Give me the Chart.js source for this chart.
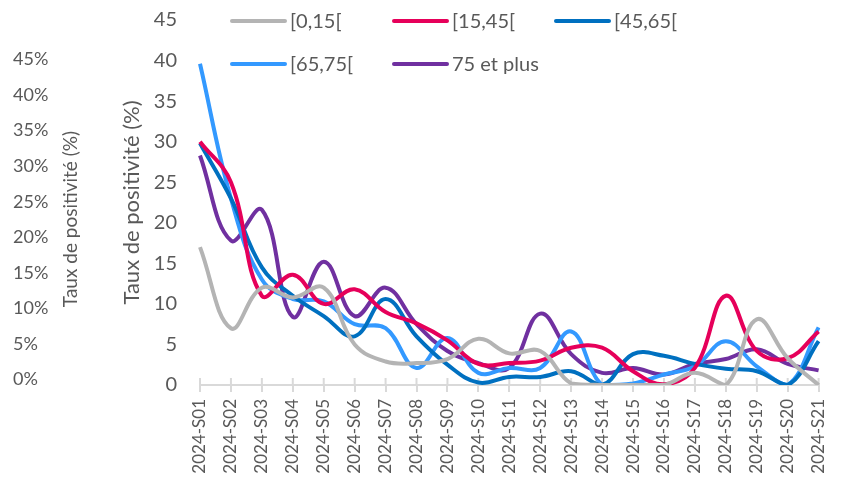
<!DOCTYPE html>
<html>
<head>
<meta charset="utf-8">
<script src="https://cdn.jsdelivr.net/npm/chart.js@4.4.1/dist/chart.umd.min.js"></script>
<style>
html, body { margin: 0; padding: 0; background: #fff; }
#wrap { width: 846px; height: 481px; }
</style>
</head>
<body>
<div id="wrap"><canvas id="chart"></canvas></div>
<script>
// ---- data (taux de positivité par classe d'âge, %) ----
var weeks = ['2024-S01', '2024-S02', '2024-S03', '2024-S04', '2024-S05', '2024-S06', '2024-S07',
             '2024-S08', '2024-S09', '2024-S10', '2024-S11', '2024-S12', '2024-S13', '2024-S14',
             '2024-S15', '2024-S16', '2024-S17', '2024-S18', '2024-S19', '2024-S20', '2024-S21'];

var age0_15  = [17, 7, 12, 10.8, 12, 5, 2.9, 2.7, 3.2, 5.7, 3.9, 4.2, 0.2, 0, 0, 0, 1.5, 0, 8.1, 3.3, 0];
var age15_45 = [30, 25, 11, 13.6, 10, 11.8, 9, 7.6, 5.5, 2.6, 2.7, 3, 4.6, 4.6, 1.7, 0.1, 2.1, 11, 4.2, 3.3, 6.6];
var age45_65 = [29.8, 23, 14.5, 11, 8.5, 6, 10.6, 6, 2.5, 0.3, 1, 1, 1.7, 0, 3.8, 3.6, 2.6, 2, 1.7, 0, 5.4];
var age65_75 = [39.6, 23, 13, 10.6, 10.3, 7.5, 7, 2.1, 5.8, 1.5, 2.1, 2.1, 6.6, 0, 0.2, 1.3, 2.3, 5.4, 2.3, 0, 7.1];
var age75plus = [28.3, 17.8, 21.6, 8.4, 15.2, 8.5, 12, 7.5, 4.2, 2.7, 2.1, 8.8, 3.8, 1.5, 2.1, 1.3, 2.6, 3.2, 4.4, 2.6, 1.8];

var seriesNames = ['[0,15[', '[15,45[', '[45,65[', '[65,75[', '75 et plus'];
var seriesColors = ['#B4B4B4', '#E6005A', '#0070C0', '#3399FF', '#7030A0'];
var pctTicks = [0, 5, 10, 15, 20, 25, 30, 35, 40, 45];

var textColor = '#595959';
var fontFamily = 'Lato, "Open Sans", sans-serif';
var axisTitle = 'Taux de positivité (%)';

var allSeries = [age0_15, age15_45, age45_65, age65_75, age75plus];

// small plugin: tick marks above the axis, outer axis title and the legend
var extrasPlugin = {
    id: 'extras',
    beforeDatasetsDraw: function(chart) {
        var ctx = chart.ctx;
        var xs = chart.scales.x;
        ctx.save();
        ctx.strokeStyle = '#D9D9D9';
        ctx.lineWidth = 2;
        xs.ticks.forEach(function(t, i) {
            var px = xs.getPixelForTick(i);
            ctx.beginPath();
            ctx.moveTo(px, xs.top - 7);
            ctx.lineTo(px, xs.top);
            ctx.stroke();
        });
        ctx.restore();
    },
    afterDraw: function(chart) {
        var ctx = chart.ctx;
        ctx.save();
        // outer axis title
        ctx.fillStyle = textColor;
        ctx.font = '19px ' + fontFamily;
        ctx.textAlign = 'center';
        ctx.textBaseline = 'middle';
        ctx.translate(71, 219);
        ctx.rotate(-Math.PI / 2);
        ctx.fillText(axisTitle, 0, 0);
        ctx.restore();

        // legend, 3 columns x 2 rows
        var cols = [232, 394, 556];
        var rows = [21, 64];
        ctx.save();
        ctx.font = '20px ' + fontFamily;
        ctx.textBaseline = 'middle';
        ctx.textAlign = 'left';
        chart.data.datasets.forEach(function(ds, i) {
            var x = cols[i % 3];
            var y = rows[Math.floor(i / 3)];
            ctx.strokeStyle = ds.borderColor;
            ctx.lineWidth = 4;
            ctx.lineCap = 'round';
            ctx.beginPath();
            ctx.moveTo(x, y);
            ctx.lineTo(x + 53, y);
            ctx.stroke();
            ctx.fillStyle = textColor;
            ctx.fillText(ds.label, x + 58, y + 1);
        });
        ctx.restore();
    }
};

var datasets = allSeries.map(function(values, i) {
    return {
        label: seriesNames[i],
        data: values,
        borderColor: seriesColors[i],
        backgroundColor: seriesColors[i],
        borderWidth: 4,
        pointRadius: 0,
        tension: 0.4,
        fill: false,
        yAxisID: 'y'
    };
});

var ctx = document.getElementById('chart').getContext('2d');
var chart = new Chart(ctx, {
    type: 'line',
    data: { labels: weeks, datasets: datasets },
    plugins: [extrasPlugin],
    options: {
        responsive: true,
        maintainAspectRatio: false,
        animation: false,
        devicePixelRatio: 1,
        layout: { padding: { left: 13, right: 17, top: 20, bottom: 0 } },
        plugins: {
            legend: { display: false },
            tooltip: { enabled: false }
        },
        scales: {
            x: {
                type: 'category',
                offset: false,
                grid: { display: true, drawOnChartArea: false, drawTicks: true, tickLength: 7, color: '#D9D9D9', lineWidth: 2 },
                border: { display: true, color: '#D9D9D9', width: 2 },
                ticks: {
                    autoSkip: false, minRotation: 90, maxRotation: 90, padding: 7,
                    color: textColor, font: { size: 17, family: fontFamily }
                },
                afterFit: function(s) { s.height = 96; }
            },
            y: {
                position: 'left',
                weight: 0,
                min: 0,
                max: 45,
                // invisible tick marks give the gap between labels and plot
                grid: { display: true, drawOnChartArea: false, drawTicks: true, tickLength: 23, tickColor: 'rgba(0,0,0,0)' },
                border: { display: false },
                ticks: { stepSize: 5, padding: 0, color: textColor, font: { size: 20, family: fontFamily } },
                title: {
                    display: true, text: axisTitle, color: textColor,
                    font: { size: 22, family: fontFamily }, padding: { top: 19, bottom: 0 }
                },
                afterFit: function(s) { s.width = 100; }
            },
            y2: {
                position: 'left',
                weight: 1,
                min: -0.773,
                max: 50.55,
                grid: { display: false },
                border: { display: false },
                afterBuildTicks: function(s) {
                    s.ticks = pctTicks.map(function(v) { return { value: v }; });
                },
                ticks: {
                    crossAlign: 'far', padding: 0, color: textColor, font: { size: 18, family: fontFamily },
                    callback: function(v) { return v + '%'; }
                },
                afterFit: function(s) { s.width = 87; }
            }
        }
    }
});
</script>
</body>
</html>
